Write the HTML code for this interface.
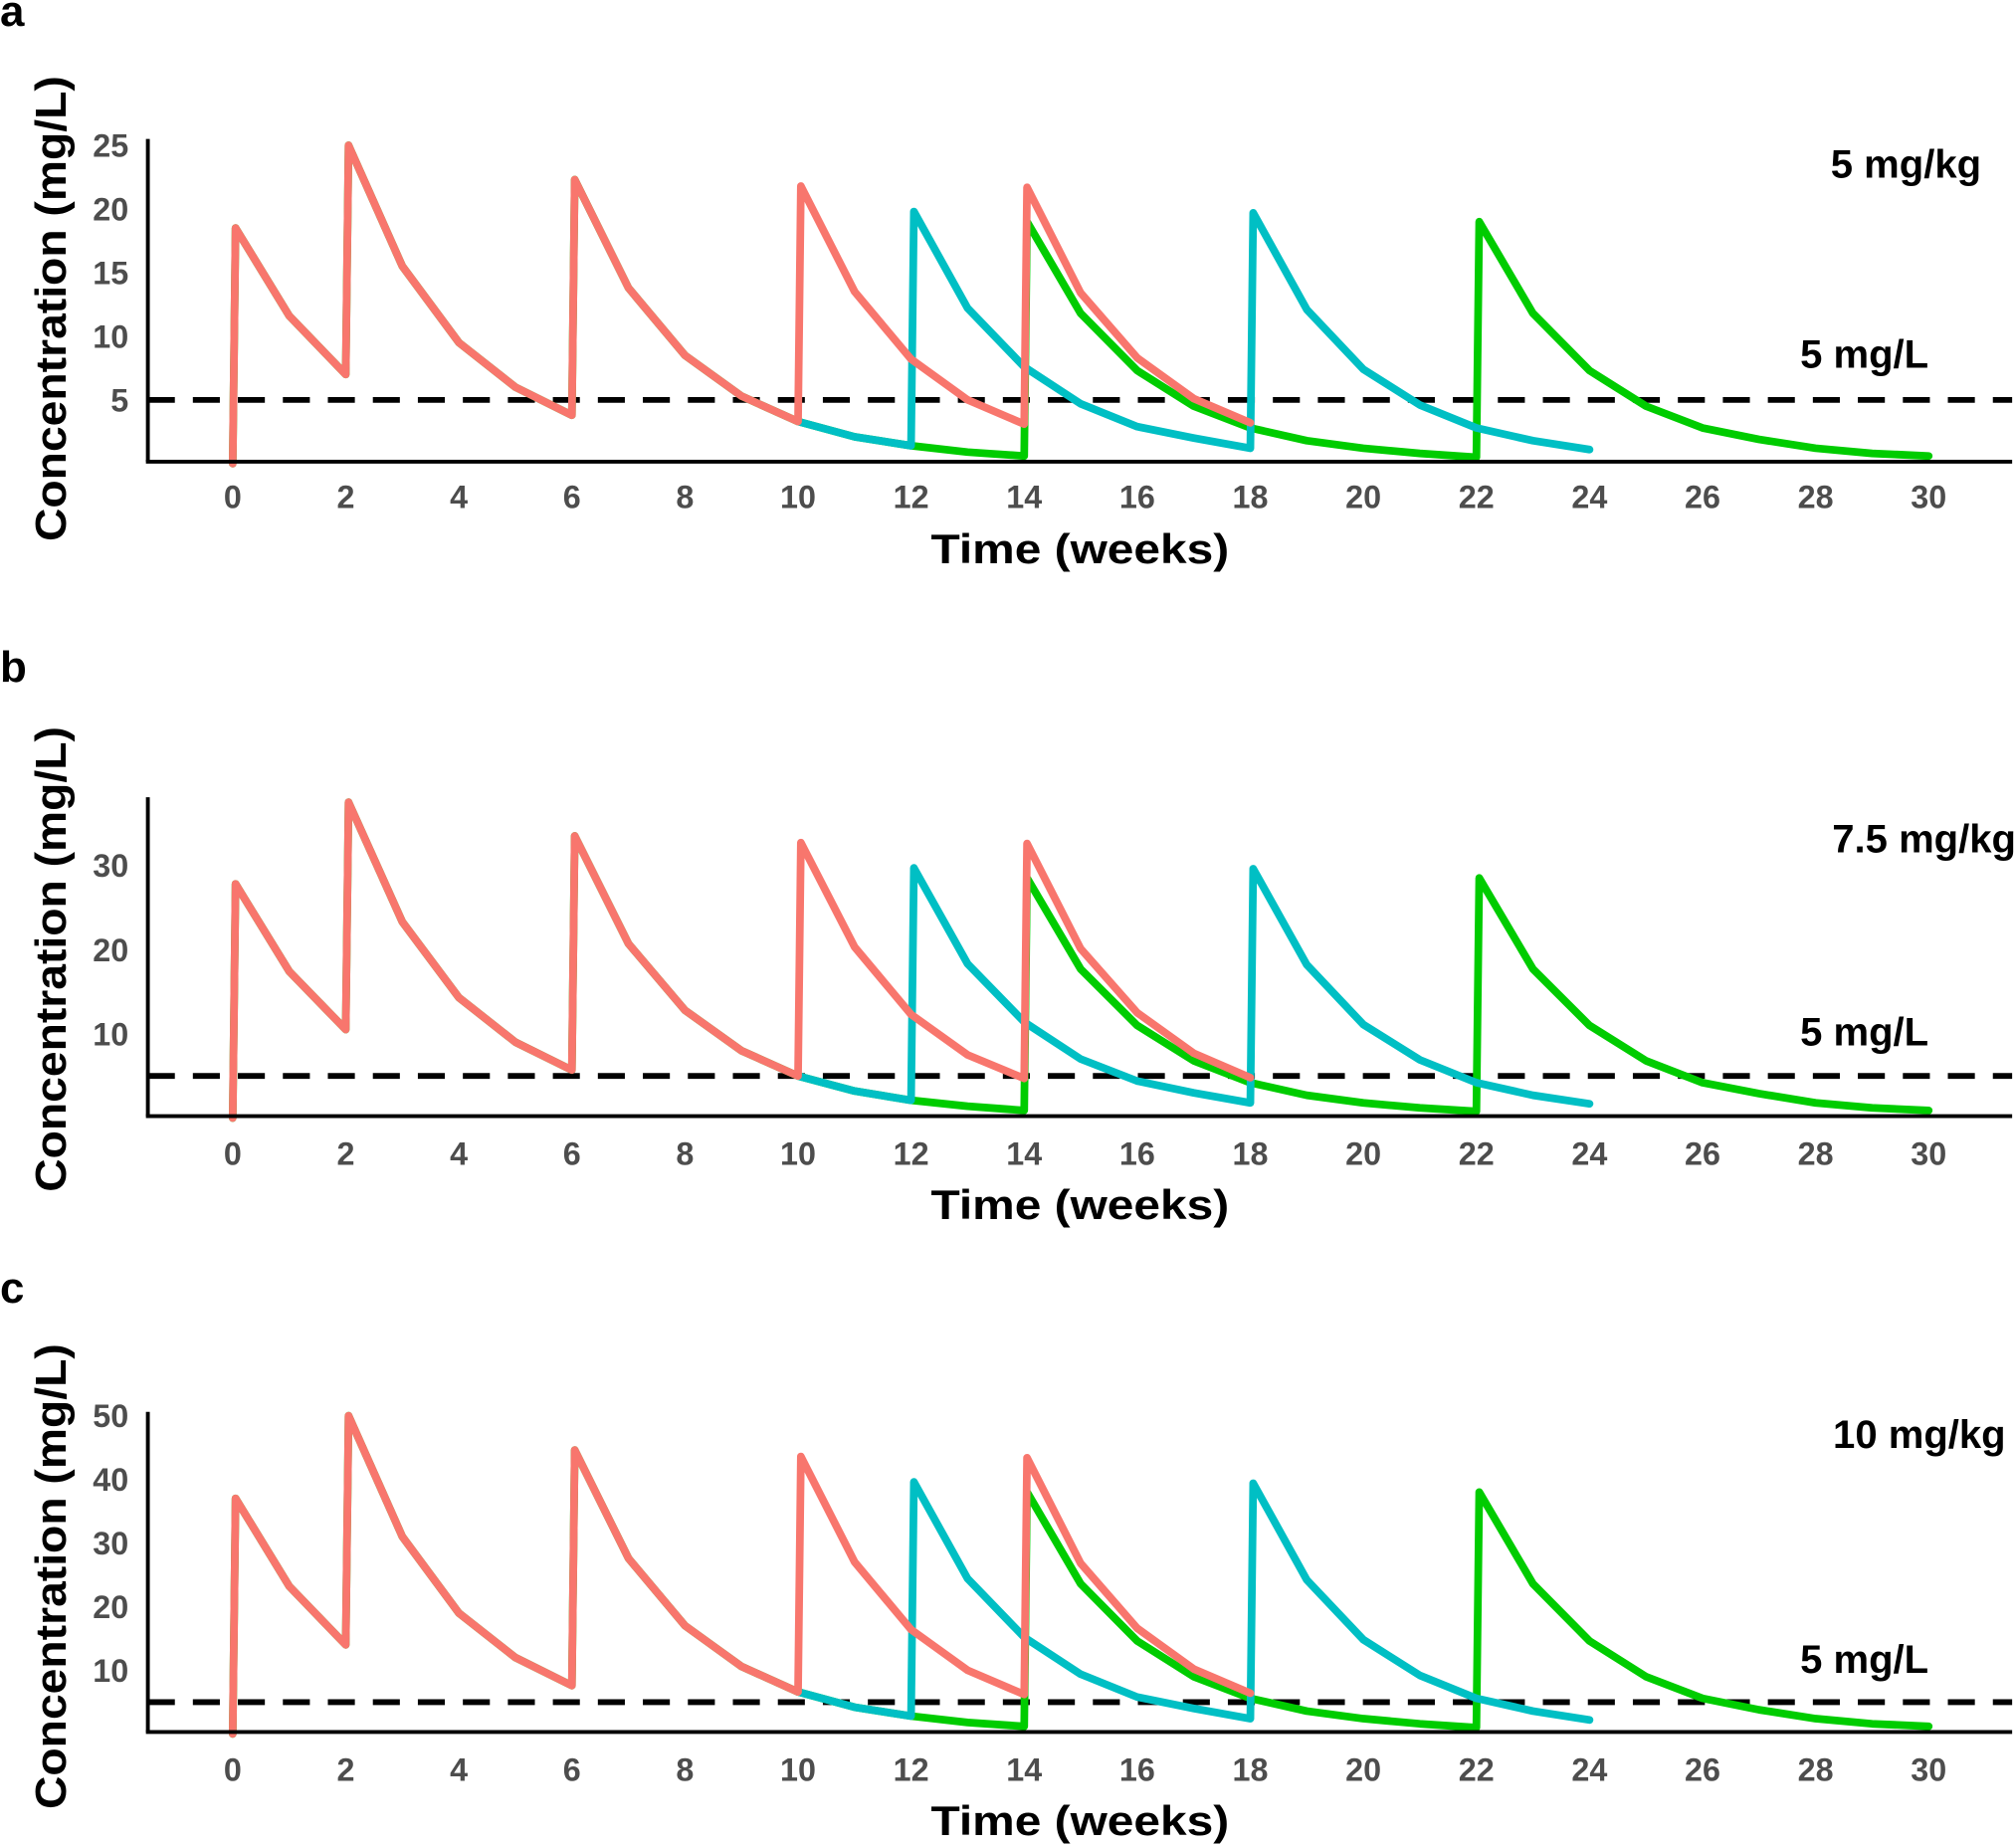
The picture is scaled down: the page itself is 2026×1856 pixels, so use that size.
<!DOCTYPE html>
<html><head><meta charset="utf-8"><style>
html,body{margin:0;padding:0;background:#fff}
svg{display:block}
text{font-family:"Liberation Sans",Arial,sans-serif;font-weight:bold}
</style></head><body>
<svg id="chart" xmlns="http://www.w3.org/2000/svg" width="2026" height="1856" viewBox="0 0 1568 1436.4"></svg>
<script>
// shared
const xTicks = [0,2,4,6,8,10,12,14,16,18,20,22,24,26,28,30];
const redT = [0,0.05,1,2,2.05,3,4,5,6,6.05,7,8,9,10,10.05,11,12,13,14,14.05,15,16,17,18];
const greenT = [0,0.05,1,2,2.05,3,4,5,6,6.05,7,8,9,10,11,12,13,14,14.05,15,16,17,18,19,20,21,22,22.05,23,24,25,26,27,28,29,30];
const cyanT = [10,11,12,12.05,13,14,15,16,17,18,18.05,19,20,21,22,23,24];
// panel a (5 mg/kg)
const redA = [0,18.5,11.6,7,25,15.5,9.5,6,3.8,22.3,13.8,8.5,5.3,3.3,21.8,13.5,8.2,5,3.1,21.7,13.4,8.3,5.1,3.2];
const greenA = [0,18.5,11.6,7,25,15.5,9.5,6,3.8,22.3,13.8,8.5,5.3,3.3,2.1,1.4,0.9,0.6,19,11.8,7.3,4.5,2.8,1.8,1.2,0.8,0.5,19,11.8,7.3,4.5,2.8,1.9,1.2,0.8,0.6];
const cyanA = [3.3,2.1,1.4,19.8,12.2,7.6,4.7,2.9,2.0,1.2,19.7,12.1,7.4,4.6,2.8,1.8,1.1];
const yTicksA = [5,10,15,20,25];
// panel b (7.5 mg/kg)
const redB = [0,27.8,17.4,10.5,37.5,23.3,14.3,9,5.7,33.5,20.7,12.8,8,5,32.7,20.3,12.3,7.5,4.7,32.6,20.1,12.5,7.7,4.8];
const greenB = [0,27.8,17.4,10.5,37.5,23.3,14.3,9,5.7,33.5,20.7,12.8,8,5,3.2,2.1,1.4,0.9,28.5,17.7,11,6.8,4.2,2.7,1.8,1.2,0.8,28.5,17.7,11,6.8,4.2,2.9,1.8,1.2,0.9];
const cyanB = [5,3.2,2.1,29.7,18.3,11.4,7,4.4,3,1.8,29.6,18.2,11.1,6.9,4.2,2.7,1.7];
const yTicksB = [10,20,30];
// panel c (10 mg/kg)
const redC = [0,37,23.2,14,50,31,19,12,7.6,44.6,27.6,17,10.6,6.6,43.6,27,16.4,10,6.2,43.4,26.8,16.6,10.2,6.4];
const greenC = [0,37,23.2,14,50,31,19,12,7.6,44.6,27.6,17,10.6,6.6,4.2,2.8,1.8,1.2,38,23.6,14.6,9,5.6,3.6,2.4,1.6,1,38,23.6,14.6,9,5.6,3.8,2.4,1.6,1.2];
const cyanC = [6.6,4.2,2.8,39.6,24.4,15.2,9.4,5.8,4,2.4,39.4,24.2,14.8,9.2,5.6,3.6,2.2];
const yTicksC = [10,20,30,40,50];
const threshold = 5;

const NS = "http://www.w3.org/2000/svg";
const svg = document.getElementById('chart');
function el(tag, attrs, parent){const e=document.createElementNS(NS,tag);for(const k in attrs)e.setAttribute(k,attrs[k]);(parent||svg).appendChild(e);return e;}

const panels = [
 {id:'a', top:108, y0:360.5, pxPer:9.9, red:redA, green:greenA, cyan:cyanA, yt:yTicksA, dose:'5 mg/kg', doseX:1541, doseY:127, thrY:275, letterY:20, tickY:386, titleY:427, ytitleY:240},
 {id:'b', top:620, y0:869.5, pxPer:6.55, red:redB, green:greenB, cyan:cyanB, yt:yTicksB, dose:'7.5 mg/kg', doseX:1568, doseY:652, thrY:802, letterY:530, tickY:897, titleY:937, ytitleY:746},
 {id:'c', top:1098, y0:1348.5, pxPer:4.95, red:redC, green:greenC, cyan:cyanC, yt:yTicksC, dose:'10 mg/kg', doseX:1560, doseY:1115, thrY:1290, letterY:1013, tickY:1376, titleY:1416, ytitleY:1226}
];
const xL=115, xR=1565;
const xs = t => 181 + t*43.97;

panels.forEach(p=>{
  const ys = v => p.y0 - v*p.pxPer;
  const g = el('g',{});
  
  
  const L = el('text',{x:0,y:p.letterY,'font-size':34,fill:'#000'},g); L.textContent=p.id;
  
  
  const th = el('line',{x1:xL,x2:xR,y1:ys(threshold),y2:ys(threshold),stroke:'#000','stroke-width':4.5,'stroke-dasharray':'21 14'},g);
  
  
  const series=[['green',p.green,greenT,'#00cc00'],['cyan',p.cyan,cyanT,'#00bfc4'],['red',p.red,redT,'#f8766d']];
  series.forEach(([nm,vals,ts,col])=>{
    const pts = vals.map((v,i)=>xs(ts[i]).toFixed(1)+','+ys(v).toFixed(1)).join(' ');
    const pl = el('polyline',{points:pts,fill:'none',stroke:col,'stroke-width':6,'stroke-linejoin':'round','stroke-linecap':'round'},g);
    
    
  });
  const ya = el('line',{x1:xL,x2:xL,y1:p.top,y2:p.y0-1.5,stroke:'#000','stroke-width':3},g);
  
  
  const xa = el('line',{x1:xL-1.5,x2:xR,y1:p.y0-1.5,y2:p.y0-1.5,stroke:'#000','stroke-width':3},g);
  
  
  p.yt.forEach(v=>{
    const t = el('text',{x:100,y:ys(v)+9,'text-anchor':'end','font-size':25,fill:'#4d4d4d'},g); t.textContent=v;
    
    
  });
  xTicks.forEach(v=>{
    const t = el('text',{x:xs(v),y:p.tickY+9,'text-anchor':'middle','font-size':25,fill:'#4d4d4d'},g); t.textContent=v;
    
    
  });
  const xt = el('text',{x:840,y:p.titleY+11,'text-anchor':'middle','font-size':32,fill:'#000',textLength:232,lengthAdjust:'spacingAndGlyphs'},g); xt.textContent='Time (weeks)';
  
  
  const yt = el('text',{x:0,y:0,'text-anchor':'middle','font-size':34,fill:'#000',textLength:362,lengthAdjust:'spacingAndGlyphs',transform:`translate(51,${p.ytitleY}) rotate(-90)`},g); yt.textContent='Concentration (mg/L)';
  
  
  const d = el('text',{x:p.doseX,y:p.doseY+11,'text-anchor':'end','font-size':31,fill:'#000'},g); d.textContent=p.dose;
  
  
  const tl = el('text',{x:1500,y:p.thrY+11,'text-anchor':'end','font-size':31,fill:'#000'},g); tl.textContent='5 mg/L';
  
  
});
</script>
</body></html>
